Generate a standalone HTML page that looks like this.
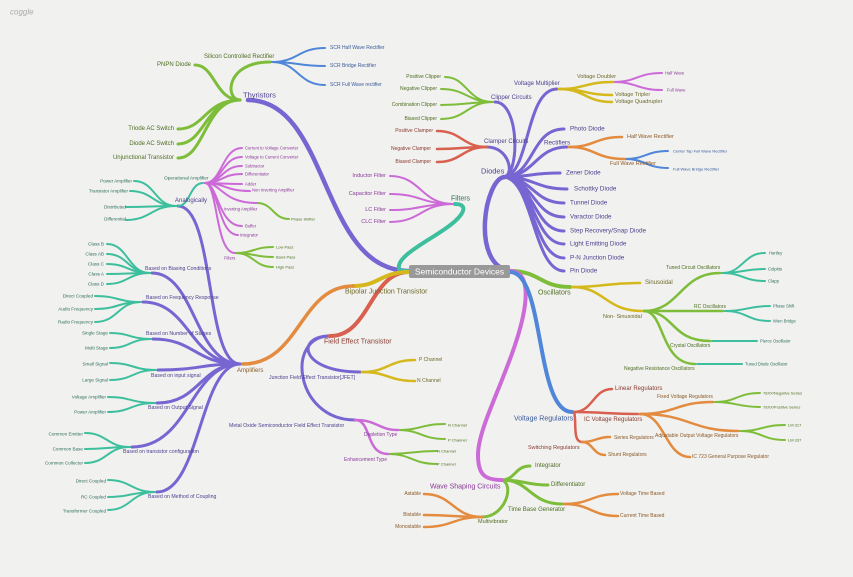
<!DOCTYPE html>
<html><head><meta charset="utf-8"><style>
html,body{margin:0;padding:0;background:#f1f1ef;}
svg{display:block;}
text{font-family:"Liberation Sans",sans-serif;dominant-baseline:central;}
</style></head><body>
<svg width="853" height="577" viewBox="0 0 853 577" xmlns="http://www.w3.org/2000/svg">
<rect width="853" height="577" fill="#f1f1ef"/>
<text x="10" y="12" font-size="8" fill="#aaa" font-style="italic">coggle</text>
<g fill="none" stroke-linecap="round">
<!-- purple -->
<g stroke="#7766d2">
<path stroke-width="4.5" d="M409 271 C320 271 330 100 248 100"/>
<path stroke-width="4.5" d="M510 271 C470 265 485 177 505 177"/>
<g stroke-width="3">
<path d="M240 364 C205 364 215 206 178 206"/>
<path d="M240 364 C195 364 195 273 152 273"/>
<path d="M240 364 C190 364 190 302 143 302"/>
<path d="M240 364 C195 364 195 339 153 339"/>
<path d="M240 364 C200 364 200 370 158 370"/>
<path d="M240 364 C200 364 200 403 157 403"/>
<path d="M240 364 C190 364 190 447 132 447"/>
<path d="M240 364 C200 364 200 492 157 492"/>
<path d="M330 336 C295 336 300 372 360 372"/>
<path d="M330 336 C285 336 295 420 355 420"/>
<path d="M503 177 C520 177 520 102 495 102"/>
<path d="M503 177 C530 177 525 89 557 89"/>
<path d="M503 177 C515 177 510 147 487 147"/>
<path d="M503 177 C535 177 530 129 564 129"/>
<path d="M503 177 C535 177 535 147 567 147"/>
<path d="M503 177 C530 177 530 173 560 173"/>
<path d="M503 177 C535 177 535 189 567 189"/>
<path d="M503 177 C533 177 533 203 564 203"/>
<path d="M503 177 C533 177 533 217 564 217"/>
<path d="M503 177 C533 177 533 231 564 231"/>
<path d="M503 177 C533 177 533 244 564 244"/>
<path d="M503 177 C533 177 533 258 564 258"/>
<path d="M503 177 C533 177 533 271 564 271"/>
</g></g>
<!-- green -->
<g stroke="#7dbd3a">
<path stroke-width="4" d="M510 271 C540 271 540 287 570 287"/>
<g stroke-width="3">
<path d="M240 100 C225 100 225 62 270 62"/>
<path d="M240 100 C215 100 215 65 195 65"/>
<path d="M240 100 C205 100 205 129 178 129"/>
<path d="M240 100 C205 100 205 144 178 144"/>
<path d="M240 100 C205 100 205 158 178 158"/>
<path d="M502 480 C515 480 515 466 530 466"/>
<path d="M502 480 C525 480 525 485 548 485"/>
<path d="M502 480 C530 480 530 504 562 504"/>
<path d="M502 480 C515 485 505 517 482 517"/>
</g>
<g stroke-width="2.5">
<path d="M644 311 C680 311 680 273 720 273"/>
<path d="M644 311 L723 311"/>
<path d="M644 311 C675 311 670 341 710 341"/>
<path d="M644 311 C665 311 660 364 695 364"/>
</g>
<g stroke-width="2">
<path d="M493 102 C467 102 467 77 445 77"/>
<path d="M493 102 C467 102 467 89 441 89"/>
<path d="M493 102 C467 102 467 105 441 105"/>
<path d="M493 102 C467 102 467 119 441 119"/>
<path d="M715 402 C737 402 737 393 760 393"/>
<path d="M715 402 C737 402 737 407 760 407"/>
<path d="M740 431 C762 431 762 425 785 425"/>
<path d="M740 431 C762 431 762 440 785 440"/>
<path d="M398 430 C421 430 421 424 445 424"/>
<path d="M398 430 C421 430 421 439 445 439"/>
<path d="M388 454 C412 454 412 451 437 451"/>
<path d="M388 454 C412 454 412 464 437 464"/>
<path d="M257 203 C273 203 273 219 289 219"/>
<path d="M235 253 C254 253 254 247 273 247"/>
<path d="M235 253 C254 253 254 257 273 257"/>
<path d="M235 253 C254 253 254 267 273 267"/>
</g></g>
<!-- teal -->
<g stroke="#3dbf9e">
<path stroke-width="4" d="M409 271 L400 271 C390 255 445 235 460 216 C467 207 462 204 455 204"/>
<g stroke-width="2">
<path d="M176 206 C155 206 155 181 134 181"/>
<path d="M176 206 C153 206 153 191 130 191"/>
<path d="M176 206 C151 206 151 207 126 207"/>
<path d="M176 206 C151 206 151 220 126 220"/>
<path d="M178 206 C190 206 190 183 203 183"/>
<path d="M150 273 C128 273 128 244 107 244"/>
<path d="M150 273 C128 273 128 254 107 254"/>
<path d="M150 273 C128 273 128 264 107 264"/>
<path d="M150 273 C128 273 128 274 107 274"/>
<path d="M150 273 C128 273 128 284 107 284"/>
<path d="M141 302 C118 302 118 296 95 296"/>
<path d="M141 302 C118 302 118 309 95 309"/>
<path d="M141 302 C118 302 118 322 95 322"/>
<path d="M151 339 C130 339 130 333 110 333"/>
<path d="M151 339 C130 339 130 348 110 348"/>
<path d="M156 370 C133 370 133 363 110 363"/>
<path d="M156 370 C133 370 133 380 110 380"/>
<path d="M155 403 C131 403 131 397 108 397"/>
<path d="M155 403 C131 403 131 412 108 412"/>
<path d="M130 447 C107 447 107 433 85 433"/>
<path d="M130 447 C107 447 107 449 85 449"/>
<path d="M130 447 C107 447 107 463 85 463"/>
<path d="M155 492 C131 492 131 480 108 480"/>
<path d="M155 492 C131 492 131 497 108 497"/>
<path d="M155 492 C131 492 131 510 108 510"/>
<path d="M722 273 C743 273 743 253 765 253"/>
<path d="M722 273 C743 273 743 269 765 269"/>
<path d="M722 273 C743 273 743 281 765 281"/>
<path d="M725 311 C747 311 747 306 770 306"/>
<path d="M725 311 C747 311 747 321 770 321"/>
<path d="M712 341 L757 341"/>
<path d="M697 364 L742 364"/>
</g></g>
<!-- pink -->
<g stroke="#cc6ad8">
<path stroke-width="4" d="M510 271 C530 271 530 300 515 345 C500 390 478 430 478 455 C478 475 485 480 502 480"/>
<g stroke-width="2">
<path d="M453 204 C421 204 421 176 390 176"/>
<path d="M453 204 C421 204 421 194 390 194"/>
<path d="M453 204 C421 204 421 210 390 210"/>
<path d="M453 204 C421 204 421 222 390 222"/>
<path d="M613 82 C637 82 637 73 662 73"/>
<path d="M613 82 C637 82 637 90 662 90"/>
<path d="M205 183 C222 183 222 148 242 148"/>
<path d="M205 183 C222 183 222 157 242 157"/>
<path d="M205 183 C222 183 222 166 242 166"/>
<path d="M205 183 C222 183 222 174 242 174"/>
<path d="M205 183 C222 183 222 184 242 184"/>
<path d="M205 183 C225 183 225 191 250 191"/>
<path d="M205 183 C222 183 222 203 257 203"/>
<path d="M205 183 C218 183 218 226 242 226"/>
<path d="M205 183 C218 183 218 235 238 235"/>
<path d="M205 183 C218 183 215 253 235 253"/>
<path stroke-width="2.5" d="M355 420 C378 420 378 430 398 430"/>
<path stroke-width="2.5" d="M355 420 C372 420 365 454 388 454"/>
</g></g>
<!-- blue -->
<g stroke="#4f86d9">
<path stroke-width="4" d="M510 272 C545 272 535 412 572 412"/>
<g stroke-width="2">
<path d="M272 62 C298 62 298 48 325 48"/>
<path d="M272 62 C298 62 298 66 325 66"/>
<path d="M272 62 C298 62 298 85 325 85"/>
<path d="M625 159 C646 159 646 151 668 151"/>
<path d="M625 159 C646 159 646 168 668 168"/>
</g></g>
<!-- red -->
<g stroke="#d9604f">
<path stroke-width="4" d="M409 272 C370 272 370 336 330 336"/>
<g stroke-width="2.5">
<path d="M487 147 C462 147 462 131 437 131"/>
<path d="M487 147 C462 147 462 149 437 149"/>
<path d="M487 147 C462 147 462 162 437 162"/>
<path d="M574 412 C593 412 593 389 612 389"/>
<path d="M574 412 C600 412 610 414 638 414"/>
<path d="M574 412 C577 420 572 442 582 442"/>
</g></g>
<!-- yellow -->
<g stroke="#d4b81c">
<path stroke-width="4" d="M409 272 C380 272 380 286 353 286"/>
<g stroke-width="2.5">
<path d="M572 287 C605 287 605 283 640 283"/>
<path d="M572 287 C605 287 605 311 642 311"/>
<path d="M559 89 C585 89 585 82 613 82"/>
<path d="M559 89 C585 89 585 95 612 95"/>
<path d="M559 89 C585 89 585 102 612 102"/>
<path d="M362 372 C388 372 388 360 415 360"/>
<path d="M362 372 C388 372 388 381 415 381"/>
</g></g>
<!-- orange -->
<g stroke="#e38b3f">
<path stroke-width="3.5" d="M353 286 C300 286 300 364 243 364"/>
<g stroke-width="2.5">
<path d="M569 147 C595 147 595 137 622 137"/>
<path d="M569 147 C595 147 595 159 625 159"/>
<path d="M640 414 C676 414 676 402 713 402"/>
<path d="M640 414 C690 414 690 431 738 431"/>
<path d="M640 414 C665 414 665 457 690 457"/>
<path d="M582 442 C596 442 596 437 610 437"/>
<path d="M582 442 C593 442 593 455 605 455"/>
<path d="M564 504 C591 504 591 494 618 494"/>
<path d="M564 504 C591 504 591 516 618 516"/>
<path d="M482 517 C453 517 453 494 424 494"/>
<path d="M482 517 C453 517 453 515 424 515"/>
<path d="M482 517 C453 517 453 527 424 527"/>
</g></g>
</g>
<!-- center -->
<rect x="409" y="265" width="101" height="13" rx="2" fill="#999"/>
<text x="459.5" y="271.5" font-size="8.5" fill="#fff" text-anchor="middle">Semiconductor Devices</text>

<g fill="#4b3f8f">
<text x="243" y="95" font-size="7.5">Thyristors</text>
<text x="481" y="171" font-size="7.5">Diodes</text>
<text x="175" y="201" font-size="6">Analogically</text>
<g font-size="5.2">
<text x="145" y="269">Based on Biasing Conditions</text>
<text x="146" y="298">Based on Frequency Response</text>
<text x="146" y="334">Based on Number of Stages</text>
<text x="151" y="376">Based on input signal</text>
<text x="148" y="408">Based on Output Signal</text>
<text x="123" y="452">Based on transistor configuration</text>
<text x="148" y="497">Based on Method of Coupling</text>
<text x="269" y="378">Junction Field Effect Transistor[JFET]</text>
<text x="229" y="426">Metal Oxide Semiconductor Field Effect Transistor</text>
</g>
<g font-size="6">
<text x="491" y="98">Clipper Circuits</text>
<text x="514" y="84">Voltage Multiplier</text>
<text x="484" y="142">Clamper Circuits</text>
</g>
<g font-size="6.3">
<text x="570" y="129">Photo Diode</text>
<text x="544" y="143">Rectifiers</text>
<text x="566" y="173">Zener Diode</text>
<text x="574" y="189">Schottky Diode</text>
<text x="570" y="203">Tunnel Diode</text>
<text x="570" y="217">Varactor Diode</text>
<text x="570" y="231">Step Recovery/Snap Diode</text>
<text x="570" y="244">Light Emitting Diode</text>
<text x="570" y="258">P-N Junction Diode</text>
<text x="570" y="271">Pin Diode</text>
</g>
</g>
<g fill="#4e6e22">
<text x="204" y="57" font-size="6">Silicon Controlled Rectifier</text>
<g font-size="6" text-anchor="end">
<text x="191" y="65">PNPN Diode</text>
<text x="174" y="129">Triode AC Switch</text>
<text x="174" y="144">Diode AC Switch</text>
<text x="174" y="158">Unjunctional Transistor</text>
</g>
<g font-size="5" text-anchor="end">
<text x="441" y="77">Positive Clipper</text>
<text x="437" y="89">Negative Clipper</text>
<text x="437" y="105">Combination Clipper</text>
<text x="437" y="119">Biased Clipper</text>
</g>
<text x="538" y="293" font-size="7">Oscillators</text>
<g font-size="5">
<text x="666" y="268">Tuned Circuit Oscillators</text>
<text x="694" y="307">RC Oscillators</text>
<text x="670" y="346">Crystal Oscillators</text>
<text x="624" y="369">Negative Resistance Oscillators</text>
</g>
<g font-size="6">
<text x="535" y="466">Integrator</text>
<text x="551" y="485">Differentiator</text>
<text x="508" y="510">Time Base Generator</text>
</g>
<text x="478" y="522" font-size="5.5">Multivibrator</text>
<g font-size="4">
<text x="763" y="393">78XX/Negative Series</text>
<text x="763" y="407">78XX/Positive Series</text>
<text x="788" y="425">LM 317</text>
<text x="788" y="440">LM 337</text>
<text x="448" y="425">N Channel</text>
<text x="448" y="440">P Channel</text>
<text x="437" y="451">N Channel</text>
<text x="437" y="464">P Channel</text>
<text x="291" y="219">Phase Shifter</text>
<text x="276" y="247">Low Pass</text>
<text x="276" y="257">Band Pass</text>
<text x="276" y="267">High Pass</text>
</g>
</g>
<g fill="#2f6f5f">
<text x="451" y="199" font-size="7">Filters</text>
<text x="164" y="179" font-size="4.8">Operational Amplifier</text>
<g font-size="4.6" text-anchor="end">
<text x="132" y="181">Power Amplifier</text>
<text x="128" y="191">Transistor Amplifier</text>
<text x="126" y="207">Distributed</text>
<text x="126" y="219">Differential</text>
<text x="104" y="244">Class B</text>
<text x="104" y="254">Class AB</text>
<text x="104" y="264">Class C</text>
<text x="104" y="274">Class A</text>
<text x="104" y="284">Class D</text>
<text x="93" y="296">Direct Coupled</text>
<text x="93" y="309">Audio Frequency</text>
<text x="93" y="322">Radio Frequency</text>
<text x="108" y="333">Single Stage</text>
<text x="108" y="348">Multi Stage</text>
<text x="108" y="364">Small Signal</text>
<text x="108" y="380">Large Signal</text>
<text x="106" y="397">Voltage Amplifier</text>
<text x="106" y="412">Power Amplifier</text>
<text x="83" y="434">Common Emitter</text>
<text x="83" y="449">Common Base</text>
<text x="83" y="463">Common Collector</text>
<text x="106" y="481">Direct Coupled</text>
<text x="106" y="497">RC Coupled</text>
<text x="106" y="511">Transformer Coupled</text>
</g>
<g font-size="4.2">
<text x="769" y="253">Hartley</text>
<text x="768" y="269">Colpitts</text>
<text x="768" y="281">Clapp</text>
<text x="773" y="306">Phase Shift</text>
<text x="773" y="321">Wien Bridge</text>
<text x="760" y="341">Pierce Oscillator</text>
<text x="745" y="364">Tuned Diode Oscillator</text>
</g>
</g>
<g fill="#8a3a9a">
<g font-size="4.2">
<text x="245" y="148">Current to Voltage Converter</text>
<text x="245" y="157">Voltage to Current Converter</text>
<text x="245" y="166">Subtractor</text>
<text x="245" y="174">Differentiator</text>
<text x="245" y="184">Adder</text>
<text x="252" y="190">Non Inverting Amplifier</text>
<text x="224" y="209">Inverting Amplifier</text>
<text x="245" y="226">Buffer</text>
<text x="240" y="235">Integrator</text>
<text x="224" y="258">Filters</text>
<text x="665" y="73">Half Wave</text>
<text x="667" y="90">Full Wave</text>
</g>
<g font-size="5.5" text-anchor="end">
<text x="386" y="176">Inductor Filter</text>
<text x="386" y="194">Capacitor Filter</text>
<text x="386" y="210">LC Filter</text>
<text x="386" y="222">CLC Filter</text>
</g>
<text x="364" y="435" font-size="5">Depletion Type</text>
<text x="344" y="460" font-size="5">Enhancement Type</text>
<text x="430" y="487" font-size="7">Wave Shaping Circuits</text>
</g>
<g fill="#3a5a9a">
<g font-size="5">
<text x="330" y="48">SCR Half Wave Rectifier</text>
<text x="330" y="66">SCR Bridge Rectifier</text>
<text x="330" y="85">SCR Full Wave rectifier</text>
</g>
<g font-size="4">
<text x="673" y="151">Center Tap Full Wave Rectifier</text>
<text x="673" y="169">Full Wave Bridge Rectifier</text>
</g>
<text x="514" y="419" font-size="7">Voltage Regulators</text>
</g>
<g fill="#8a3a30">
<g font-size="5" text-anchor="end">
<text x="433" y="131">Positive Clamper</text>
<text x="431" y="149">Negative Clamper</text>
<text x="431" y="162">Biased Clamper</text>
</g>
<text x="324" y="342" font-size="7">Field Effect Transistor</text>
<text x="615" y="389" font-size="6">Linear Regulators</text>
<text x="584" y="420" font-size="6">IC Voltage Regulators</text>
<text x="528" y="448" font-size="5.5">Switching Regulators</text>
</g>
<g fill="#6e6a2a">
<text x="345" y="292" font-size="7">Bipolar Junction Transistor</text>
<text x="645" y="283" font-size="6">Sinusoidal</text>
<text x="603" y="317" font-size="5.5">Non- Sinusoidal</text>
<g font-size="5.5">
<text x="577" y="77">Voltage Doubler</text>
<text x="615" y="95">Voltage Tripler</text>
<text x="615" y="102">Voltage Quadrupler</text>
</g>
<text x="419" y="360" font-size="5">P Channel</text>
<text x="417" y="381" font-size="5">N Channel</text>
</g>
<g fill="#8a5a2a">
<text x="237" y="371" font-size="6">Amplifiers</text>
<g font-size="5.5">
<text x="627" y="137">Half Wave Rectifier</text>
<text x="610" y="164">Full Wave Rectifier</text>
</g>
<g font-size="5">
<text x="657" y="397">Fixed Voltage Regulators</text>
<text x="655" y="436">Adjustable Output Voltage Regulators</text>
<text x="692" y="457">IC 723 General Purpose Regulator</text>
<text x="614" y="438">Series Regulators</text>
<text x="608" y="455">Shunt Regulators</text>
<text x="620" y="494">Voltage Time Based</text>
<text x="620" y="516">Current Time Based</text>
</g>
<g font-size="5" text-anchor="end">
<text x="421" y="494">Astable</text>
<text x="421" y="515">Bistable</text>
<text x="421" y="527">Monostable</text>
</g>
</g>
</svg>
</body></html>
